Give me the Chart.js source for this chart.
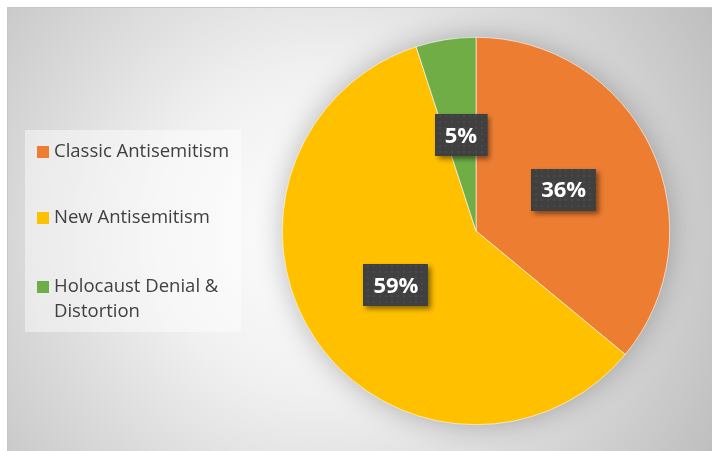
<!DOCTYPE html>
<html>
<head>
<meta charset="utf-8">
<script src="https://cdn.jsdelivr.net/npm/chart.js@4/dist/chart.umd.min.js"></script>
<style>
  html, body { margin: 0; padding: 0; background: #fff; }
  #wrap { width: 712px; height: 451px; }
</style>
</head>
<body>
<div id="wrap"><canvas id="pieChart" width="712" height="451"></canvas></div>
<script>
// chart data
const categories = ['Classic Antisemitism', 'New Antisemitism', 'Holocaust Denial & Distortion'];
const legendLines = [['Classic Antisemitism'], ['New Antisemitism'], ['Holocaust Denial &', 'Distortion']];
const shares = [36, 59, 5];
const sliceColors = ['#ED7D31', '#FFC000', '#70AD47'];

document.addEventListener('DOMContentLoaded', function () {
    const ctx = document.getElementById('pieChart').getContext('2d');

    // small dotted texture for the label boxes
    const tile = document.createElement('canvas');
    tile.width = 6; tile.height = 6;
    const tctx = tile.getContext('2d');
    tctx.fillStyle = '#404040';
    tctx.fillRect(0, 0, 6, 6);
    tctx.fillStyle = '#4a4a4a';
    tctx.fillRect(1, 1, 2, 2);
    const boxPattern = ctx.createPattern(tile, 'repeat');

    // frame + gradient background + pie halo
    const backdrop = {
        id: 'backdrop',
        beforeDraw(chart) {
            const c = chart.ctx;
            c.save();
            c.fillStyle = '#ffffff';
            c.fillRect(0, 0, chart.width, chart.height);
            const g = c.createRadialGradient(320, 230, 0, 320, 230, 470);
            g.addColorStop(0, '#ffffff');
            g.addColorStop(0.35, '#f0f0f0');
            g.addColorStop(1, '#bbbbbb');
            c.fillStyle = g;
            c.fillRect(7, 7, 705, 444);
            c.strokeStyle = '#c6c6c6';
            c.lineWidth = 1;
            c.strokeRect(7.5, 7.5, 705, 444);
            c.restore();
        },
        beforeDatasetsDraw(chart) {
            const arc = chart.getDatasetMeta(0).data[0];
            if (!arc) return;
            const c = chart.ctx;
            c.save();
            c.shadowColor = 'rgba(0,0,0,0.3)';
            c.shadowBlur = 30;
            c.fillStyle = '#d0d0d0';
            c.beginPath();
            c.arc(arc.x, arc.y, arc.outerRadius - 2, 0, Math.PI * 2);
            c.fill();
            c.restore();
        }
    };

    // legend box on the left
    const sideLegend = {
        id: 'sideLegend',
        afterDraw(chart) {
            const c = chart.ctx;
            c.save();
            c.fillStyle = 'rgba(255,255,255,0.45)';
            c.fillRect(25, 130, 216, 202);
            c.font = '18.5px "Open Sans"';
            c.textBaseline = 'middle';
            const rows = [152, 218, 287];
            legendLines.forEach((lines, i) => {
                c.fillStyle = chart.data.datasets[0].backgroundColor[i];
                c.fillRect(37, rows[i] - 6, 12, 12);
                c.fillStyle = '#404040';
                lines.forEach((t, j) => c.fillText(t, 54, rows[i] + j * 25));
            });
            c.restore();
        }
    };

    // percentage labels in dark boxes
    const sliceLabels = {
        id: 'sliceLabels',
        afterDatasetsDraw(chart) {
            const c = chart.ctx;
            const vals = chart.data.datasets[0].data;
            const total = vals.reduce((a, b) => a + b, 0);
            c.save();
            c.font = 'bold 22px "Open Sans"';
            c.textAlign = 'center';
            c.textBaseline = 'middle';
            chart.getDatasetMeta(0).data.forEach((arc, i) => {
                const pos = arc.tooltipPosition();
                const txt = Math.round(vals[i] / total * 100) + '%';
                const w = c.measureText(txt).width + 20;
                const h = 42;
                const x = Math.round(pos.x - w / 2), y = Math.round(pos.y - h / 2);
                c.save();
                c.shadowColor = 'rgba(0,0,0,0.45)';
                c.shadowBlur = 5;
                c.shadowOffsetX = 3;
                c.shadowOffsetY = 3;
                c.fillStyle = '#404040';
                c.fillRect(x, y, w, h);
                c.restore();
                c.fillStyle = boxPattern;
                c.fillRect(x, y, w, h);
                c.fillStyle = '#ffffff';
                c.fillText(txt, pos.x, pos.y + 1);
            });
            c.restore();
        }
    };

    const data = {
        labels: categories,
        datasets: [{
            data: shares,
            backgroundColor: sliceColors,
            borderColor: '#ffffff',
            borderWidth: 0.6
        }]
    };

    const config = {
        type: 'pie',
        data: data,
        options: {
            responsive: false,
            animation: false,
            layout: { padding: { left: 282, right: 42, top: 37, bottom: 26 } },
            plugins: {
                legend: { display: false },
                tooltip: { enabled: false }
            }
        },
        plugins: [backdrop, sideLegend, sliceLabels]
    };

    const pieChart = new Chart(ctx, config);
});
</script>
</body>
</html>
